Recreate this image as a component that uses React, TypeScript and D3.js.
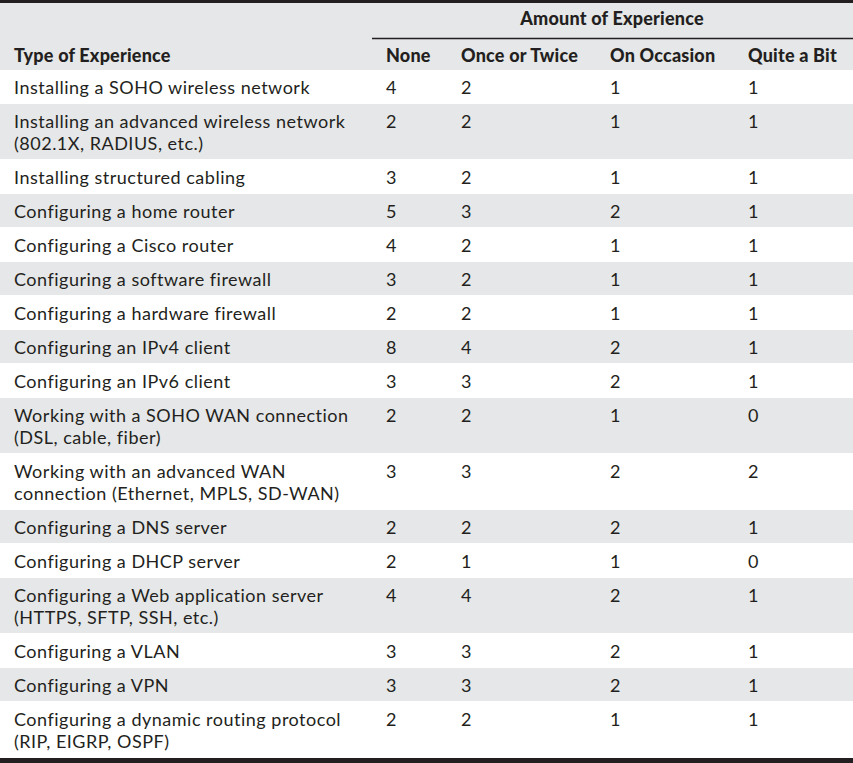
import React, { useEffect, useRef } from "react";
import * as d3 from "d3";

// Table content
const experienceTypes = [
    "Installing a SOHO wireless network",
    "Installing an advanced wireless network\n(802.1X, RADIUS, etc.)",
    "Installing structured cabling",
    "Configuring a home router",
    "Configuring a Cisco router",
    "Configuring a software firewall",
    "Configuring a hardware firewall",
    "Configuring an IPv4 client",
    "Configuring an IPv6 client",
    "Working with a SOHO WAN connection\n(DSL, cable, fiber)",
    "Working with an advanced WAN\nconnection (Ethernet, MPLS, SD-WAN)",
    "Configuring a DNS server",
    "Configuring a DHCP server",
    "Configuring a Web application server\n(HTTPS, SFTP, SSH, etc.)",
    "Configuring a VLAN",
    "Configuring a VPN",
    "Configuring a dynamic routing protocol\n(RIP, EIGRP, OSPF)",
];
const amountLabels = ["None", "Once or Twice", "On Occasion", "Quite a Bit"];
const noneValues = [4, 2, 3, 5, 4, 3, 2, 8, 3, 2, 3, 2, 2, 4, 3, 3, 2];
const onceOrTwiceValues = [2, 2, 2, 3, 2, 2, 2, 4, 3, 2, 3, 2, 1, 4, 3, 3, 2];
const onOccasionValues = [1, 1, 1, 2, 1, 1, 1, 2, 2, 1, 2, 2, 1, 2, 2, 2, 1];
const quiteABitValues = [1, 1, 1, 1, 1, 1, 1, 1, 1, 0, 2, 1, 0, 1, 1, 1, 1];

const ExperienceTable = () => {
    const ref = useRef();

    useEffect(() => {
        const svg = d3.select(ref.current);
        svg.selectAll("*").remove();

        const width = 853;
        const height = 763;
        const headerBottom = 70;
        const singleRow = 34;
        const extraLine = 22;
        const lineGap = 22;
        const ink = "#231f20";
        const shade = "#e6e7e8";
        const font = "Lato, sans-serif";
        const fontSize = 18;

        svg.attr("width", width).attr("height", height);

        const rows = experienceTypes.map((label, i) => ({
            lines: label.split("\n"),
            values: [noneValues[i], onceOrTwiceValues[i], onOccasionValues[i], quiteABitValues[i]],
        }));

        // cumulative row positions
        const heights = rows.map((r) => singleRow + (r.lines.length - 1) * extraLine);
        const tops = d3.cumsum([0, ...heights]).map((v) => v + headerBottom);

        // column positions for the amount columns
        const x = d3
            .scaleOrdinal()
            .domain(amountLabels)
            .range([386, 461, 610, 748]);
        const labelX = 14;

        // header background
        svg.append("rect")
            .attr("x", 0)
            .attr("y", 0)
            .attr("width", width)
            .attr("height", headerBottom)
            .attr("fill", shade);

        // row backgrounds
        svg.append("g")
            .selectAll("rect")
            .data(rows)
            .join("rect")
            .attr("x", 0)
            .attr("y", (d, i) => tops[i])
            .attr("width", width)
            .attr("height", (d, i) => heights[i] - 1)
            .attr("fill", (d, i) => (i % 2 === 1 ? shade : "#ffffff"));

        // borders
        svg.append("rect").attr("x", 0).attr("y", 0).attr("width", width).attr("height", 3).attr("fill", ink);
        svg.append("rect")
            .attr("x", 0)
            .attr("y", tops[rows.length])
            .attr("width", width)
            .attr("height", height - tops[rows.length])
            .attr("fill", ink);
        svg.append("line")
            .attr("x1", 372)
            .attr("x2", width)
            .attr("y1", 38.5)
            .attr("y2", 38.5)
            .attr("stroke", ink)
            .attr("stroke-width", 1.5);

        // header text
        const header = svg.append("g")
            .attr("font-family", font)
            .attr("font-weight", 900)
            .attr("font-size", fontSize)
            .attr("letter-spacing", 0.2)
            .attr("fill", ink);
        header.append("text")
            .attr("x", 612)
            .attr("y", 25)
            .attr("text-anchor", "middle")
            .text("Amount of Experience");
        header.append("text").attr("x", labelX).attr("y", 62).text("Type of Experience");
        header.selectAll("text.col")
            .data(amountLabels)
            .join("text")
            .attr("class", "col")
            .attr("x", (d) => x(d))
            .attr("y", 62)
            .text((d) => d);

        // body text
        const body = svg.append("g")
            .attr("font-family", font)
            .attr("font-size", fontSize)
            .attr("letter-spacing", 0.5)
            .attr("fill", ink);
        const rowG = body.selectAll("g")
            .data(rows)
            .join("g")
            .attr("transform", (d, i) => `translate(0,${tops[i] + 24})`);
        // wrapped labels as one text with tspans
        rowG.append("text")
            .attr("class", "label")
            .attr("x", labelX)
            .attr("y", 0)
            .selectAll("tspan")
            .data((d) => d.lines)
            .join("tspan")
            .attr("x", labelX)
            .attr("dy", (d, j) => (j === 0 ? 0 : lineGap))
            .text((d) => d);
        rowG.selectAll("text.val")
            .data((d) => d.values.map((v, k) => ({ v, col: amountLabels[k] })))
            .join("text")
            .attr("class", "val")
            .attr("x", (d) => x(d.col))
            .attr("y", 0)
            .text((d) => d.v);
    }, []);

    return <svg ref={ref} style={{ position: "absolute", left: 0, top: 0, display: "block" }}></svg>;
};

export default function App() {
    return <ExperienceTable />;
}
